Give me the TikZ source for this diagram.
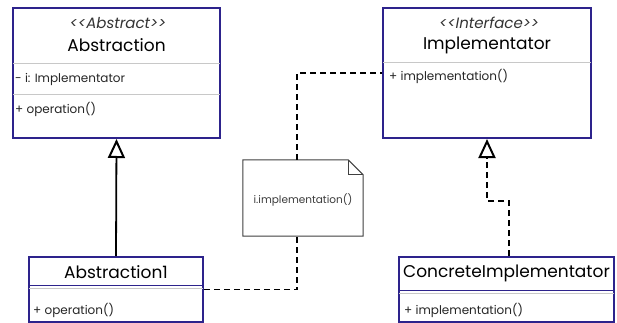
\documentclass[tikz,border=0pt]{standalone}
\usepackage{fontspec}
\setmainfont{Poppins}[Ligatures=TeXOff]
\usetikzlibrary{arrows.meta,positioning,calc}
\definecolor{classline}{RGB}{45,35,140}
\definecolor{sepline}{RGB}{200,200,200}
\definecolor{notetext}{RGB}{60,60,60}

\begin{document}
\begin{tikzpicture}[x=1pt, y=-1pt,
  classbox/.style={draw=classline, line width=2pt, fill=white, inner sep=0pt},
  stereo/.style={font=\fontsize{15}{17}\selectfont\itshape, text=black!80},
  cname/.style={font=\fontsize{17}{20}\selectfont, text=black},
  member/.style={anchor=west, inner sep=0pt, font=\fontsize{12}{14}\selectfont, text=black!85},
  sep/.style={draw=sepline, line width=0.8pt, shorten <=1pt, shorten >=1pt},
  dblsep/.style={draw=classline, line width=1pt, shorten <=1pt, shorten >=1pt},
  inherit/.style={-{Triangle[open, length=19pt, width=17pt, line width=2pt]}, line width=1.8pt},
  realize/.style={inherit, dash pattern=on 6pt off 4pt},
  depend/.style={line width=1.8pt, dash pattern=on 6pt off 4pt},
  notebox/.style={minimum width=120pt, minimum height=76pt, inner sep=0pt,
    font=\fontsize{10.5}{12}\selectfont, text=notetext}
]
\useasboundingbox (0,0) rectangle (617,323);

\node[classbox, minimum width=207pt, minimum height=130pt] (abstraction) at (116.5,73) {};
\node[stereo] (absstereo) at (118,23) {<<Abstract>>};
\node[cname] (absname) at (116.5,45) {Abstraction};
\draw[sep] (abstraction.west |- 0,63) -- (abstraction.east |- 0,63);
\draw[sep] (abstraction.west |- 0,94) -- (abstraction.east |- 0,94);
\node[member] (absattr) at (15,79) {- i: Implementator};
\node[member] (absop) at (15,109) {+ operation()};

\node[classbox, minimum width=208pt, minimum height=130pt] (implementator) at (487,73) {};
\node[stereo] (impstereo) at (489,23) {<<Interface>>};
\node[cname] (impname) at (487,45) {Implementator};
\draw[sep] (implementator.west |- 0,62) -- (implementator.east |- 0,62);
\node[member] (impop) at (389,76) {+ implementation()};

\node[classbox, minimum width=174pt, minimum height=65pt] (abstraction1) at (116,289.5) {};
\node[cname] (a1name) at (116,272) {Abstraction1};
\draw[dblsep] (abstraction1.west |- 0,285) -- (abstraction1.east |- 0,285);
\draw[sep] (abstraction1.west |- 0,288) -- (abstraction1.east |- 0,288);
\node[member] (a1op) at (33,310) {+ operation()};

\node[classbox, minimum width=215pt, minimum height=65pt] (concrete) at (506.5,289.5) {};
\node[cname] (concname) at (506.5,273) {ConcreteImplementator};
\draw[dblsep] (concrete.west |- 0,290) -- (concrete.east |- 0,290);
\draw[sep] (concrete.west |- 0,293) -- (concrete.east |- 0,293);
\node[member] (concop) at (404,310) {+ implementation()};

\node[notebox] (note) at (303,198) {};
\draw[draw=black!75, line width=1pt, fill=white]
  (note.north west) -- ([xshift=-15pt]note.north east) -- ([yshift=-15pt]note.north east)
  -- (note.south east) -- (note.south west) -- cycle;
\draw[draw=black!75, line width=1pt]
  ([xshift=-15pt]note.north east) -- ([xshift=-15pt, yshift=-15pt]note.north east)
  -- ([yshift=-15pt]note.north east);
\node[notebox] (notetxt) at ([yshift=-2pt]note.center) {i.implementation()};

\draw[inherit] (abstraction1.north) -- (abstraction.south);
\draw[realize] ([xshift=2.5pt]concrete.north) -- ++(0,-55) -| (implementator.south);
\draw[depend] (abstraction1.east) -| ([xshift=-6pt]note.south);
\draw[depend] ([xshift=-6pt]note.north) |- (implementator.west);
\end{tikzpicture}
\end{document}
